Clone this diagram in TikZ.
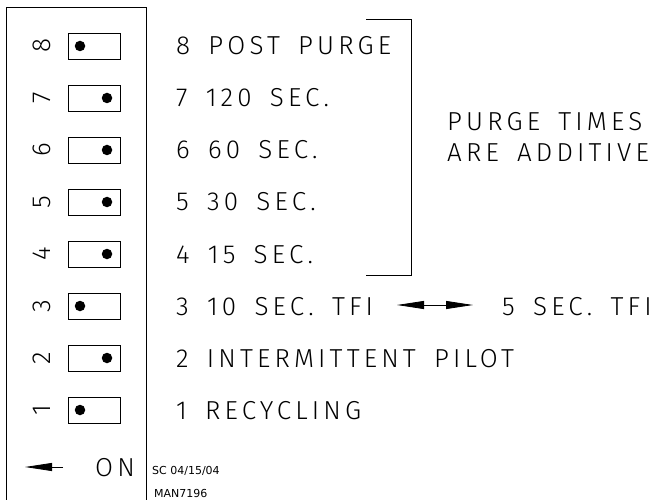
\documentclass[tikz,border=0pt]{standalone}
\usepackage{fontspec}
\setmainfont{DejaVu Sans}
\newfontfamily\cadfont{Fira Sans Light}[LetterSpace=16, WordSpace=1.6]
\usetikzlibrary{arrows.meta}

\begin{document}
\begin{tikzpicture}[x=1pt, y=-1pt,
  dip/.style={draw, line width=0.8pt, minimum width=52pt, minimum height=26pt, inner sep=0pt},
  dot/.style={circle, fill, inner sep=0pt, minimum size=10.5pt},
  num/.style={font=\cadfont\fontsize{26}{26}\selectfont, rotate=90, inner sep=0pt},
  txt/.style={font=\cadfont\fontsize{26}{26}\selectfont, anchor=base west, inner sep=0pt},
  small/.style={font=\fontsize{11}{11}\selectfont, anchor=base west, inner sep=0pt},
  arr/.style={-{Triangle[length=27pt,width=8pt]}, line width=0.8pt}]

\useasboundingbox (0,0) rectangle (659,500);

% housing
\draw[line width=0.8pt] (6,503) -- (6,7) -- (146,7) -- (146,503);

% switches
\foreach \i/\d in {8/80,7/107,6/107,5/107,4/107,3/80,2/107,1/80}{
  \node[dip] (sw\i) at (94,{46+52*(8-\i)}) {};
  \node[dot] (d\i) at (\d,{46+52*(8-\i)}) {};
  \node[num] (n\i) at (42,{46+52*(8-\i)}) {\i};
}

% settings
\foreach \i/\t in {8/8 POST PURGE, 7/7 120 SEC., 6/6 60 SEC., 5/5 30 SEC.,
  4/4 15 SEC., 3/3 10 SEC. TFI, 2/2 INTERMITTENT PILOT, 1/1 RECYCLING}{
  \node[txt] (t\i) at (176,{55+52*(8-\i)}) {\t};
}

% purge bracket
\coordinate (brA) at (366,19);
\coordinate (brB) at (411,275);
\coordinate (brC) at (366,275);
\draw[line width=0.8pt] (brA) -| (brB) -- (brC);
\node[txt] (note1) at (447,131) {PURGE TIMES};
\node[txt] (note2) at (447,162) {ARE ADDITIVE};

% TFI option
\node[txt] (alt) at (502,315) {5 SEC. TFI};
\coordinate (tfiL) at (397,305);
\coordinate (tfiR) at (473,305);
\draw[arr, {Triangle[length=27pt,width=8pt]}-{Triangle[length=27pt,width=8pt]}] (tfiL) -- (tfiR);

% ON marker
\node[txt] (on) at (95,476) {ON};
\coordinate (onTail) at (63,467);
\coordinate (onTip) at (25,467);
\draw[arr] (onTail) -- (onTip);

% drawing ref
\node[small] (sc) at (152,474) {SC 04/15/04};
\node[small] (man) at (154,497) {MAN7196};
\end{tikzpicture}
\end{document}
